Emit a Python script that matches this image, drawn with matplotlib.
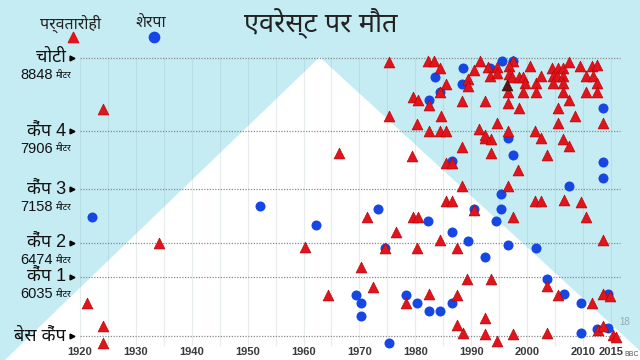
import matplotlib
matplotlib.use("Agg")
import matplotlib.pyplot as plt
from matplotlib import font_manager, ft2font, transforms
from matplotlib.patches import Polygon

# climbers (red triangles): year of death, altitude (m)
climber_years = [
    1924.1, 1921.3, 1924.1, 1924.1, 1934.1, 1960.3,
    1976.5, 1974.6, 1980.3, 1984.4, 1987.4, 1970.3, 1989.2, 1972.4, 1964.4, 1978.3,
    1982.4, 1987.4, 1987.4, 1988.5, 2013.6, 1993.5, 2003.5, 2005.5, 2011.6, 2013.6,
    2014.8, 1992.5, 1992.5, 1994.6, 1997.5, 2003.5, 2012.7, 2013.6, 2015.3, 2015.9,
    1979.4, 1985.5, 1986.5, 1988.3, 1992.5, 1993.5, 1993.5, 1988.3, 1985.5, 1986.5,
    1990.5, 1979.6, 1980.5, 1971.3, 1966.3, 1975.3, 1984.6, 2008.6, 1980.3, 1994.6,
    2005.5, 2013.6, 1982.4, 1984.4, 1985.5, 1991.4, 1992.5, 1996.6, 2001.4, 2002.5,
    2006.4, 2007.5, 2003.5, 1998.4, 1996.6, 2001.4, 2002.5, 2006.6, 2009.6, 1997.5,
    2010.5,
    1975.3, 1982.3, 1983.3, 1984.4, 1990.5, 1991.6, 1989.4, 1989.4, 1985.5, 1984.4,
    1979.6, 1980.5, 1982.4, 1988.3, 1992.5, 1997.5, 1993.0, 1994.6, 1996.7, 2000.5,
    1993.3, 1994.6, 1996.7, 1997.3, 1998.5, 1999.2, 1999.6, 2001.6, 2002.5, 2004.4,
    2005.5, 2006.4, 2007.5, 2004.6, 2005.3, 2006.4, 2009.4, 2011.6, 2012.5, 2010.5,
    2011.8, 2004.6, 2006.4, 2012.5, 2012.5, 1996.6, 1999.2, 2001.6, 2006.4, 2010.5,
    2007.5, 1996.6, 1998.5, 2005.5,
]
climber_alts = [
    8193, 5700, 5404, 5186, 6471, 6419,
    6612, 6407, 6407, 6509, 6407, 6163, 6008, 5906, 5803, 5700,
    5815, 5803, 5417, 5314, 6509, 6008, 5918, 5803, 5700, 5815,
    5790, 5507, 5301, 5211, 5301, 5314, 5353, 5404, 5289, 5263,
    7589, 7499, 7499, 7704, 7820, 7807, 7627, 7203, 7010, 7010,
    6895, 6805, 6805, 6805, 7627, 8103, 8103, 8103, 8000, 8013,
    8013, 8013, 7910, 7910, 7910, 7936, 7859, 7910, 7910, 7820,
    7807, 7717, 7602, 7409, 7203, 7010, 7010, 7023, 6998, 6805,
    6805,
    8797, 8809, 8809, 8720, 8694, 8809, 8578, 8488, 8514, 8411,
    8347, 8308, 8244, 8295, 8295, 8809, 8732, 8732, 8745, 8745,
    8617, 8655, 8642, 8604, 8604, 8604, 8527, 8527, 8617, 8720,
    8720, 8720, 8797, 8617, 8617, 8617, 8745, 8745, 8758, 8617,
    8617, 8527, 8527, 8527, 8411, 8411, 8411, 8411, 8411, 8411,
    8308, 8270, 8206, 8206,
]
dark_years = [1996.4]
dark_alts = [8501]

# sherpas (blue circles)
sherpa_years = [
    1922.1, 1952.2, 1962.2, 1986.5, 1989.4, 1974.6, 1969.4, 1970.3, 1970.3, 1978.3,
    1980.3, 1982.4, 1984.4, 1986.5, 1975.3, 1996.6, 2001.6, 1992.5, 2003.5, 2006.6,
    2009.6, 2014.5, 2009.6, 2012.5, 2014.5, 1986.5, 1995.3, 1995.3, 1990.5, 1973.3,
    1982.3, 1994.4, 1997.5, 2013.6, 2013.6, 2007.5, 2013.6, 1996.6, 1983.5, 1988.5,
    1993.3, 1988.3, 1984.4, 1982.4, 1995.5, 1997.5,
]
sherpa_alts = [
    6805, 6946, 6702, 6612, 6496, 6407, 5803, 5700, 5533, 5803,
    5700, 5597, 5597, 5700, 5186, 6445, 6407, 6291, 6008, 5815,
    5700, 5815, 5314, 5366, 5379, 7525, 7100, 6908, 6908, 6908,
    6753, 6753, 7602, 7512, 7306, 7203, 8206, 7820, 8604, 8720,
    8720, 8514, 8411, 8308, 8809, 8809,
]

level_names = ['चोटी', 'कैंप 4', 'कैंप 3', 'कैंप 2', 'कैंप 1', 'बेस कैंप']
level_heights = ['8848', '7906', '7158', '6474', '6035', '']
level_alts = [8848, 7906, 7158, 6474, 6035, 5270]
year_ticks = [1920, 1930, 1940, 1950, 1960, 1970, 1980, 1990, 2000, 2010, 2015]


def deva_font():
    have = {}
    for f in font_manager.fontManager.ttflist:
        try:
            if 0x0915 in ft2font.FT2Font(f.fname).get_charmap():
                have[f.name] = True
        except Exception:
            continue
    for name in ['Noto Sans Devanagari', 'Hind', 'Mukta', 'Poppins', 'FreeSans']:
        if name in have:
            return name
    return 'FreeSans'


deva = deva_font()
plt.rcParams['font.family'] = ['Liberation Sans', deva]

bg = '#c6ecf3'
fig = plt.figure(figsize=(6.4, 3.6), dpi=100, facecolor=bg)
ax = fig.add_axes([0, 0, 1, 1])
ax.set_facecolor(bg)
ax.set_xlim(1905.7, 2020.2)
ax.set_ylim(4967, 9593)
ax.axis('off')

# white mountain
ax.add_patch(Polygon([(1906.6, 4967), (1962.9, 8860), (2022.0, 4967)],
                     closed=True, facecolor='white', edgecolor='none', zorder=0))

# vertical grid every 5 years
for yr in range(1920, 2016, 5):
    ax.plot([yr, yr], [5160, 8848], color='#7a9aa0', alpha=0.18, lw=0.8, zorder=1)

# horizontal level lines
for alt in level_alts:
    ax.plot([1920, 2016.6], [alt, alt], color='#8a8a8a', lw=0.9, ls=(0, (1, 1.2)), zorder=1)
    ax.plot([1918.6], [alt], marker='>', color='black', ms=3.5, zorder=2)

ax.scatter(sherpa_years, sherpa_alts, marker='o', s=52, color='#1646e3', zorder=3, linewidths=0)
ax.scatter(climber_years, climber_alts, marker='^', s=62, color='#e0141c',
           edgecolors='#b30000', linewidths=0.4, zorder=4)
ax.scatter(dark_years, dark_alts, marker='^', s=62, color='#5a1414',
           edgecolors='#3a0a0a', linewidths=0.4, zorder=4)

# level labels
tr = transforms.blended_transform_factory(ax.transAxes, ax.transData)
sub = transforms.offset_copy(tr, fig=fig, y=-12.5, units='points')
for name, h, alt in zip(level_names, level_heights, level_alts):
    ax.text(66 / 640, alt, name, transform=tr, ha='right', va='center',
            fontsize=13, color='#111111')
    if h:
        ax.text(53 / 640, alt, h, transform=sub, ha='right', va='center',
                fontsize=10.5, color='#111111')
        ax.text(55 / 640, alt, 'मीटर', transform=sub, ha='left', va='center',
                fontsize=6.5, color='#111111')

# year labels
for yr in year_ticks:
    ax.text(yr, 9593 - 352 * 12.85, str(yr), ha='center', va='center',
            fontsize=8, fontweight='bold', color='#3a3a3a')

# title and legend
fig.text(321 / 640, 1 - 23 / 360, 'एवरेस्ट पर मौत', ha='center', va='center',
         fontsize=19.5, color='#222222')
fig.text(71 / 640, 1 - 24 / 360, 'पर्वतारोही', ha='center', va='center',
         fontsize=11.5, color='#222222')
fig.text(151 / 640, 1 - 23 / 360, 'शेरपा', ha='center', va='center',
         fontsize=11.5, color='#222222')
ax.scatter([1918.8], [8848 + 21 * 12.85], marker='^', s=55, color='#e0141c', zorder=4)
ax.scatter([1933.2], [8848 + 21 * 12.85], marker='o', s=55, color='#1646e3', zorder=4)

fig.text(625 / 640, 1 - 322 / 360, '18', ha='center', va='center', fontsize=7, color='#9aa8b0')
fig.text(639 / 640, 1 - 355 / 360, 'BBC', ha='right', va='center', fontsize=5,
         color='#555555')

fig.savefig('out.png', dpi=100, facecolor=bg)
